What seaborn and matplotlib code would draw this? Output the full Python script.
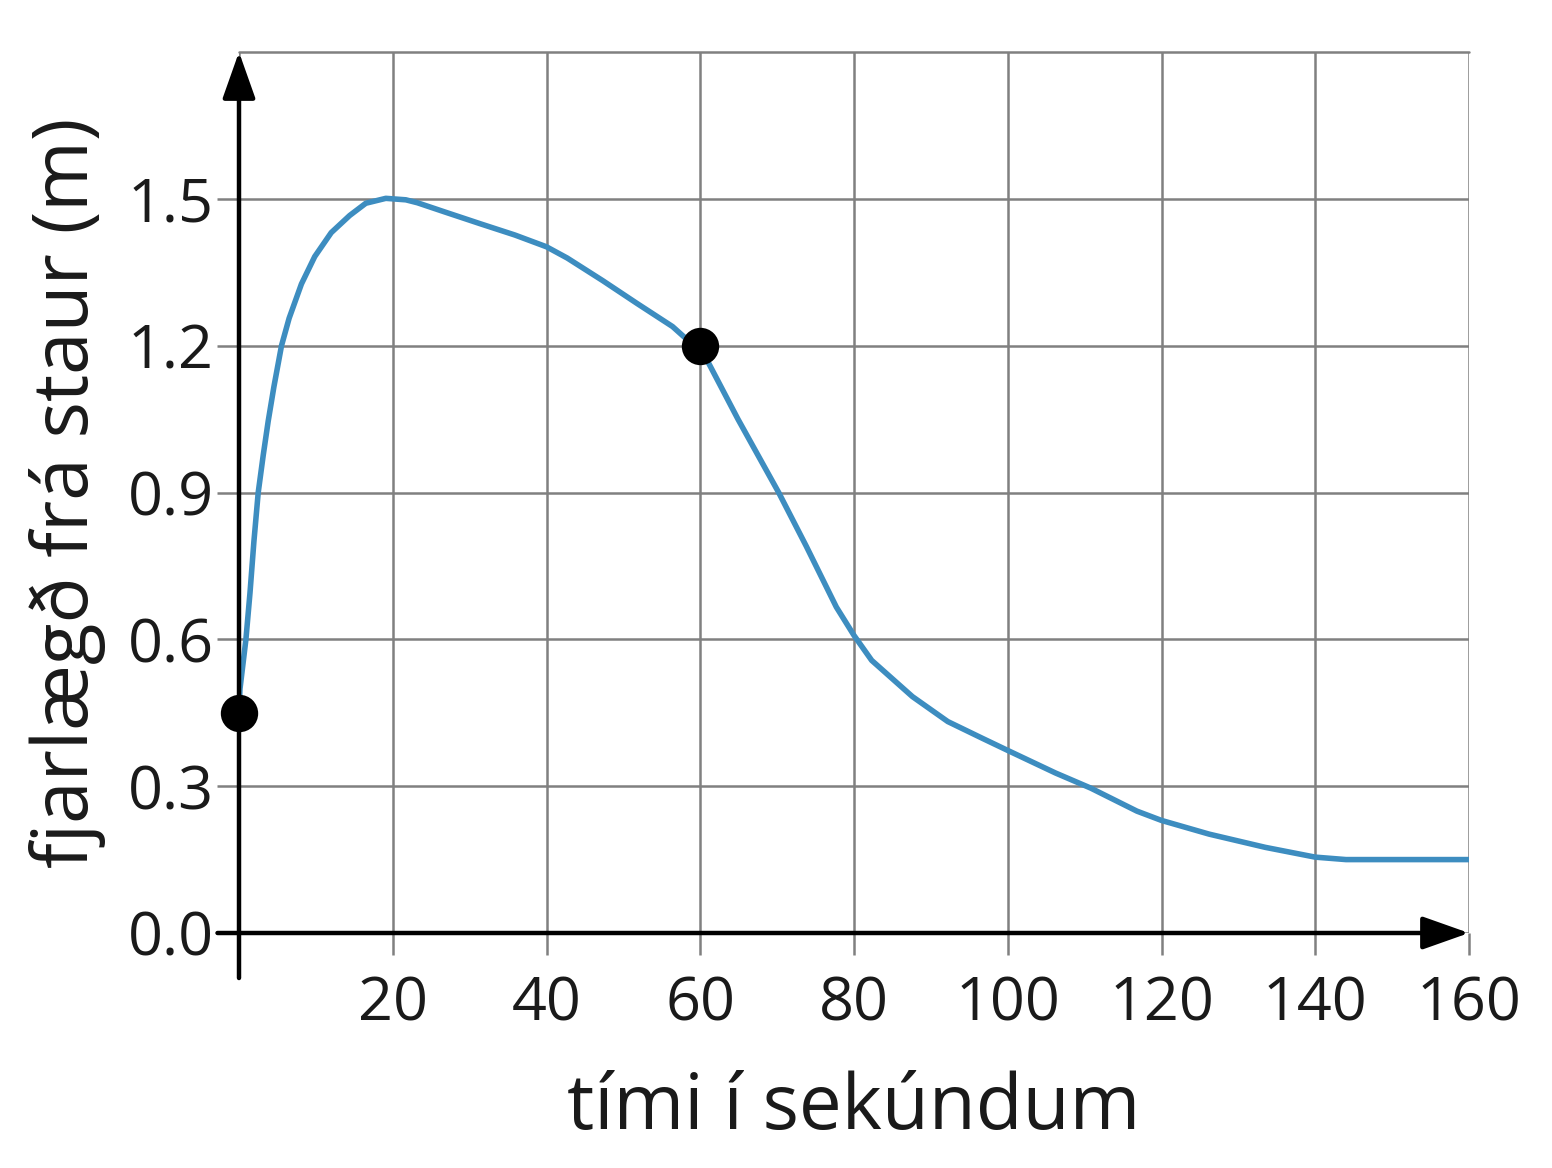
import numpy as np
import pandas as pd
import matplotlib
matplotlib.use("Agg")
import matplotlib.pyplot as plt
import seaborn as sns

# ---- data ----
time_s = [0, 0.13, 0.9, 1.43, 1.94, 2.5, 3.15, 3.8, 4.54, 5.53, 6.52, 8.12, 9.85,
          12.0, 14.4, 16.5, 19.1, 21.7, 23.2, 26.8, 31.4, 35.9, 40.0, 42.7, 47.3,
          51.8, 56.4, 58.6, 60.0, 61.0, 64.9, 70.2, 73.8, 77.7, 80.0, 82.3, 87.6,
          92.2, 96.8, 100.0, 106.2, 110.8, 116.8, 120.0, 126.2, 133.5, 140.0,
          144.0, 160.0]
distance_m = [0.45, 0.499, 0.60, 0.695, 0.80, 0.90, 0.976, 1.046, 1.116, 1.20, 1.256, 1.326, 1.382,
              1.431, 1.466, 1.491, 1.501, 1.498, 1.492, 1.473, 1.449, 1.426, 1.402, 1.379, 1.333,
              1.286, 1.239, 1.208, 1.20, 1.167, 1.05, 0.90, 0.79, 0.666, 0.608, 0.557, 0.483,
              0.432, 0.397, 0.373, 0.327, 0.296, 0.249, 0.230, 0.202, 0.175, 0.155,
              0.150, 0.150]
point_t = [0, 60]
point_d = [0.45, 1.20]
x_ticks = [20, 40, 60, 80, 100, 120, 140, 160]
x_tick_labels = ["20", "40", "60", "80", "100", "120", "140", "160"]
y_ticks = [0.0, 0.3, 0.6, 0.9, 1.2, 1.5]
y_tick_labels = ["0.0", "0.3", "0.6", "0.9", "1.2", "1.5"]
x_label = "tími í sekúndum"
y_label = "fjarlægð frá staur (m)"

df = pd.DataFrame({"t": time_s, "d": distance_m})
pts = pd.DataFrame({"t": point_t, "d": point_d})

sns.set_theme(style="whitegrid")
plt.rcParams["font.family"] = ["Open Sans", "DejaVu Sans"]

fig = plt.figure(figsize=(15.52, 11.68), dpi=100)
ax = fig.add_axes([239/1552, 1-933/1168, (1469-239)/1552, (933-52)/1168])

grid_col = "#808080"
sns.lineplot(data=df, x="t", y="d", ax=ax, color="#3d8dc0", linewidth=4.0,
             sort=False, estimator=None, zorder=4)
for ln in ax.lines:
    ln.set_linewidth(4.0)
    ln.set_solid_capstyle("round")
    ln.set_solid_joinstyle("round")
sns.scatterplot(data=pts, x="t", y="d", ax=ax, color="black", s=620,
                edgecolor="black", zorder=6, clip_on=False)

ax.set_xlim(0, 160)
ax.set_ylim(0, 1.8)
ax.set_xticks([0] + x_ticks)
ax.set_xticklabels([""] + x_tick_labels)
ax.set_yticks(y_ticks)
ax.set_yticklabels(y_tick_labels)

ax.grid(True, color=grid_col, linewidth=1.8)
ax.axhline(1.8, color=grid_col, linewidth=1.8, zorder=1, clip_on=False)
for s in ax.spines.values():
    s.set_visible(False)
ax.tick_params(axis="both", which="major", length=16, width=1.8, color=grid_col,
               labelsize=44, labelcolor="#1a1a1a")
ax.tick_params(axis="y", left=True, pad=2)
ax.tick_params(axis="x", bottom=True, pad=14)

ax.set_xlabel(x_label, fontsize=55, color="#1a1a1a", labelpad=26)
ax.set_ylabel(y_label, fontsize=55, color="#1a1a1a", labelpad=16)

# black arrow axes
ax.annotate("", xy=(160, 0), xytext=(-2.8, 0), xycoords="data",
            arrowprops=dict(arrowstyle="-|>,head_length=2.4,head_width=0.85",
                            color="black", lw=3.2, shrinkA=0, shrinkB=0),
            annotation_clip=False, zorder=5)
ax.annotate("", xy=(0, 1.8), xytext=(0, -0.092), xycoords="data",
            arrowprops=dict(arrowstyle="-|>,head_length=2.4,head_width=0.85",
                            color="black", lw=3.2, shrinkA=0, shrinkB=0),
            annotation_clip=False, zorder=5)

fig.savefig("out.png", dpi=100, facecolor="white")
